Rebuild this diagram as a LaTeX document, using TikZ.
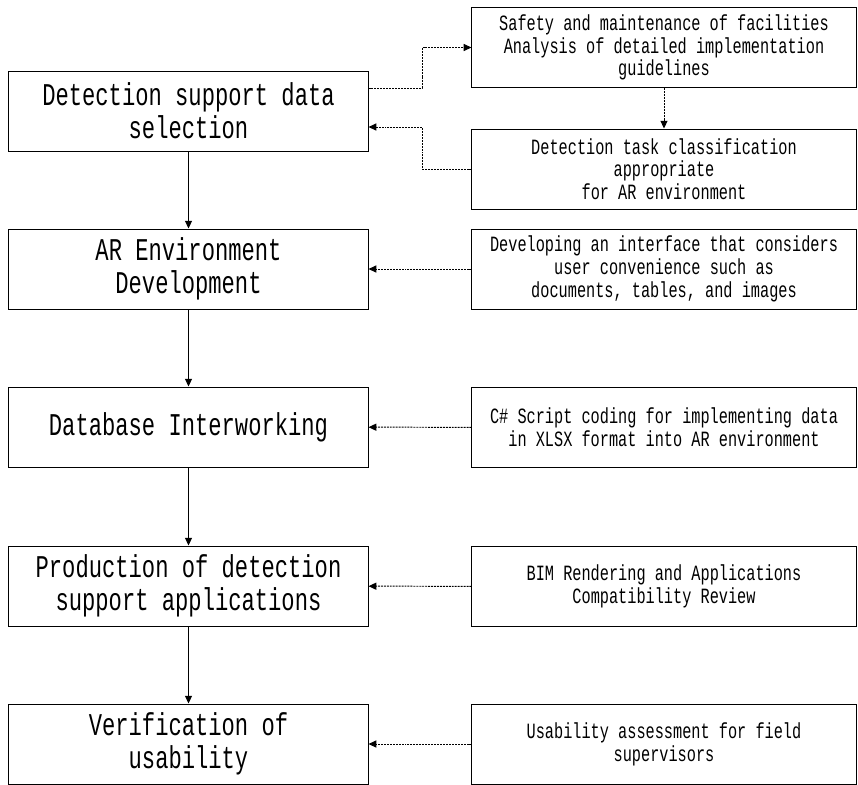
\documentclass[tikz,border=0pt]{standalone}
\usepackage{fontspec}
\newfontfamily\boxfont[FakeStretch=0.7]{Liberation Mono}
\usetikzlibrary{arrows.meta, positioning, calc}

\begin{document}
\begin{tikzpicture}[x=0.025cm, y=-0.025cm, line width=0.7pt,
    mainbox/.style={draw, minimum width=8.975cm, minimum height=2cm, align=center,
      inner sep=0pt, font=\boxfont\fontsize{22.5}{23.5}\selectfont},
    notebox/.style={draw, minimum width=9.6cm, minimum height=2cm, align=center,
      inner sep=0pt, font=\boxfont\fontsize{15.5}{16.2}\selectfont},
    flow/.style={-{Triangle[length=5.5pt, width=5pt]}},
    dline/.style={-{Triangle[length=5.5pt, width=5pt]}, dash pattern=on 1.4pt off 0.7pt}]
    \useasboundingbox (0,0) rectangle (858,785);

    % main steps
    \node[mainbox] (sel)    at (188.5,111) {Detection support data\\selection};
    \node[mainbox] (envdev) at (188.5,269) {AR Environment\\Development};
    \node[mainbox] (dbint)  at (188.5,427) {Database Interworking};
    \node[mainbox] (prod)   at (188.5,586) {Production of detection\\support applications};
    \node[mainbox] (verif)  at (188.5,744) {Verification of\\usability};

    % details
    \node[notebox] (safety)  at (664,47.5) {Safety and maintenance of facilities\\Analysis of detailed implementation\\guidelines};
    \node[notebox] (taskcls) at (664,169)  {Detection task classification\\appropriate\\for AR environment};
    \node[notebox] (iface)   at (664,269)  {Developing an interface that considers\\user convenience such as\\documents, tables, and images};
    \node[notebox] (script)  at (664,427.5) {C\# Script coding for implementing data\\in XLSX format into AR environment};
    \node[notebox] (bim)     at (664,586.5) {BIM Rendering and Applications\\Compatibility Review};
    \node[notebox] (usab)    at (664,744)  {Usability assessment for field\\supervisors};

    \draw[flow] (sel) -- (envdev);
    \draw[flow] (envdev) -- (dbint);
    \draw[flow] (dbint) -- (prod);
    \draw[flow] (prod) -- (verif);

    \coordinate (out)  at (422,88);
    \coordinate (back) at (422,127);
    \draw[dline] (sel.east |- out) -- (out) |- (safety.west);
    \draw[dline] (safety) -- (taskcls);
    \draw[dline] (taskcls.west) -| (back) -- (sel.east |- back);
    \draw[dline] (iface) -- (envdev);
    \draw[dline] (script) -- (dbint);
    \draw[dline] (bim) -- (prod);
    \draw[dline] (usab) -- (verif);
\end{tikzpicture}
\end{document}
